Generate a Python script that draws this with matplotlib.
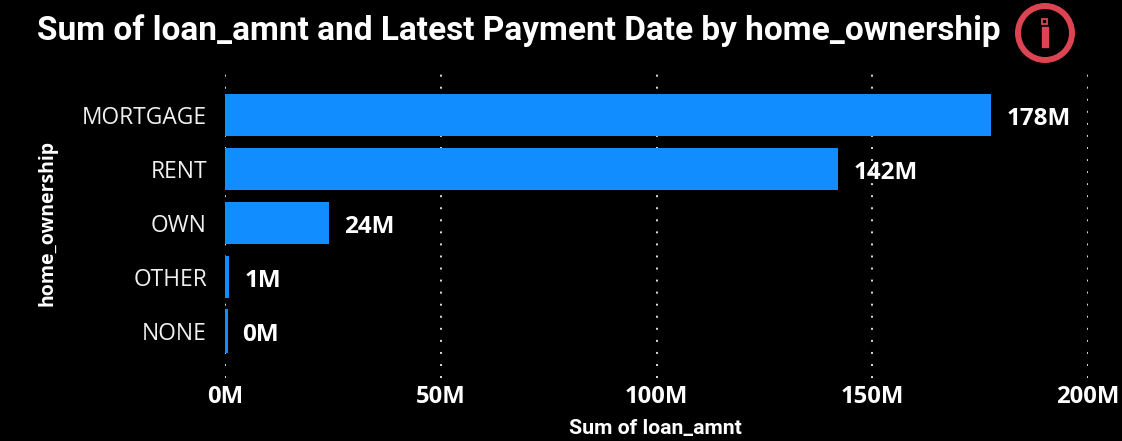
import matplotlib
matplotlib.use("Agg")
import matplotlib.pyplot as plt
from matplotlib.patches import Circle, Rectangle

categories = ["MORTGAGE", "RENT", "OWN", "OTHER", "NONE"]
values = [177.5, 142.0, 24.0, 1.0, 0.4]
labels = ["178M", "142M", "24M", "1M", "0M"]
ticks = [0, 50, 100, 150, 200]
tick_labels = ["0M", "50M", "100M", "150M", "200M"]

W, H = 1122, 441
plt.rcParams['font.family'] = ['Open Sans', 'DejaVu Sans']
fig = plt.figure(figsize=(W/100, H/100), dpi=100, facecolor='black')
L, R, T, B = 225, 1088, 72, 378
ax = fig.add_axes([L/W, 1-B/H, (R-L)/W, (B-T)/H], facecolor='black')
ypos = list(range(len(categories)))
bars = ax.barh(ypos, values, height=0.778, color='#118DFF', zorder=3)
bars[4].set_edgecolor('#118DFF')
bars[4].set_linewidth(1.5)
ax.set_xlim(0, 200)
ax.set_ylim(4.87, -0.796)
ax.set_xticks(ticks)
ax.set_xticklabels(tick_labels, fontsize=17.2, fontweight='bold', color='white')
ax.set_yticks(ypos)
ax.set_yticklabels(categories, fontsize=16.4, color='#F0F0F0')
ax.tick_params(axis='x', length=0, pad=5)
ax.tick_params(axis='y', length=0, pad=13)
ax.grid(axis='x', color='#E0E0E0', linestyle=(0, (1, 5.2)), linewidth=1.4, zorder=1)
for s in ax.spines.values():
    s.set_visible(False)
for y, v, t in zip(ypos, values, labels):
    ax.annotate(t, (v, y), xytext=(15.5, -4), textcoords='offset pixels', va='center',
                ha='left', fontsize=17.5, fontweight='bold', color='white')
fig.text(569/W, 1-429/H, "Sum of loan_amnt", fontsize=15.3, fontweight='bold',
         color='white', va='center', ha='left', family=['Roboto', 'Open Sans'])
fig.text(48/W, 1-223/H, "home_ownership", fontsize=14.0, fontweight='bold',
         color='white', va='center', ha='center', rotation=90)
fig.text(37/W, 1-31/H, "Sum of loan_amnt and Latest Payment Date by home_ownership",
         fontsize=24.05, fontweight='bold', color='white', va='center', ha='left',
         family=['Roboto', 'Open Sans'])

ov = fig.add_axes([0, 0, 1, 1], facecolor='none')
ov.set_xlim(0, W); ov.set_ylim(H, 0); ov.axis('off')
ov.add_patch(Circle((1045, 33), 27, fill=False, ec='#DC4453', lw=4.3))
ov.add_patch(Rectangle((1042, 27), 6, 20, color='#DC4453'))
ov.add_patch(Rectangle((1042.5, 19), 5, 5, fill=False, ec='#DC4453', lw=1.3))
fig.savefig('out.png', dpi=100, facecolor='black')
